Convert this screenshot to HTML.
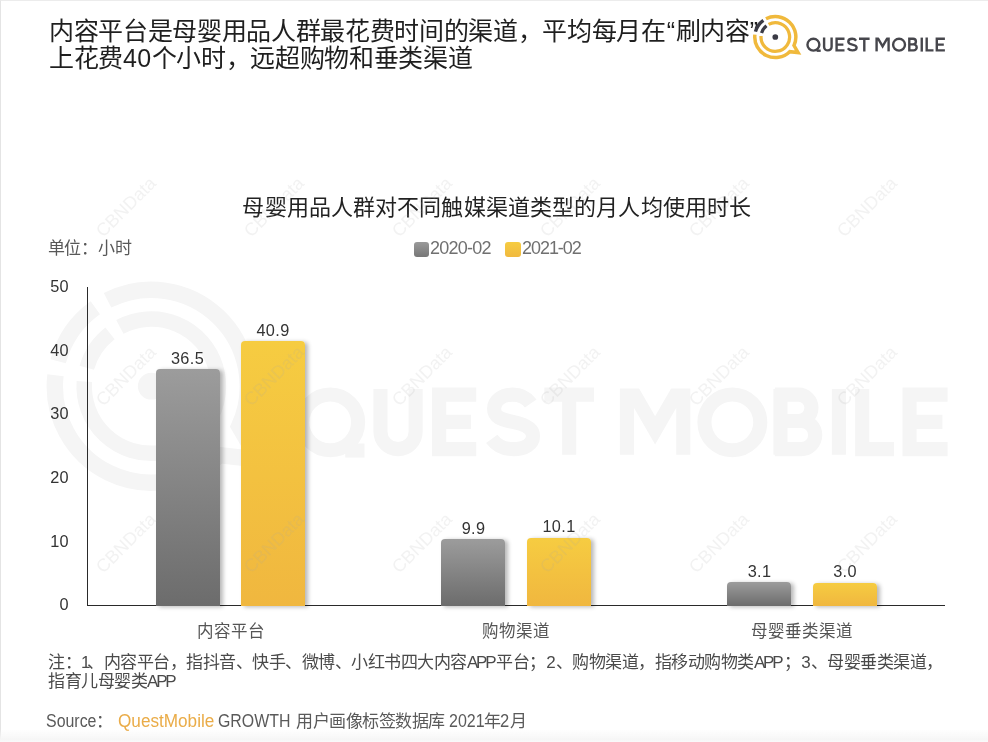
<!DOCTYPE html>
<html lang="zh-CN">
<head>
<meta charset="utf-8">
<title>母婴用品人群对不同触媒渠道类型的月人均使用时长</title>
<style>
*{margin:0;padding:0;box-sizing:border-box}
html,body{width:988px;height:742px;overflow:hidden;background:#fff}
body{position:relative;font-family:"Liberation Sans",sans-serif;color:#222}
#root{position:absolute;left:0;top:0;width:988px;height:742px;overflow:hidden;will-change:transform;transform:translateZ(0)}
.abs{position:absolute;white-space:nowrap}
#frame{position:absolute;left:0;top:0;width:988px;height:742px;border-top:1px solid #ececec;border-left:1px solid #e4e4e4}
#botfade{position:absolute;left:0;bottom:0;width:988px;height:13px;background:linear-gradient(to bottom,rgba(246,246,246,0),#f6f6f6 80%,#fafafa)}
#title{left:49px;top:18px;font-size:25px;letter-spacing:-0.33px;line-height:26.6px;color:#1f1f1f}
#ctitle{left:0;width:993.6px;top:194px;text-align:center;font-size:22px;letter-spacing:.12px;line-height:28px;color:#222}
#unit{left:47.7px;top:238.8px;font-size:17px;letter-spacing:-0.2px;line-height:20px;color:#585858}
.lg{font-size:18px;line-height:20px;color:#707070;top:238px;letter-spacing:-0.75px}
.sw{position:absolute;width:15.6px;height:15.6px;border-radius:3px;top:241.7px}
.yl{width:40px;left:28.9px;text-align:right;font-size:16.3px;letter-spacing:.3px;line-height:20px;color:#333}
.vl{width:80px;text-align:center;font-size:16.3px;letter-spacing:.35px;line-height:20px;color:#333}
.cl{width:200px;text-align:center;font-size:16.5px;line-height:20px;color:#555}
.bar{position:absolute;width:64px;border-radius:4px 4px 0 0;box-shadow:3px 1px 4px rgba(0,0,0,.28)}
.g{background:linear-gradient(to bottom,#9c9c9c,#6c6c6c)}
.y{background:linear-gradient(to bottom,#f6cc41,#f0b73f)}
#note{left:48px;top:652.5px;font-size:17px;letter-spacing:-0.5px;line-height:19.5px;color:#4a4a4a}
#note i{font-style:normal;letter-spacing:-2.2px;margin-right:1.7px}
#note u{text-decoration:none;margin-right:-2.5px}
#note s{text-decoration:none;margin:0 .7px}
#src{position:absolute;left:0;top:710px;color:#5a5a5a}
.sx{top:0;font-size:18px;line-height:22px;transform-origin:0 50%}
.sc{top:1px;font-size:17px;letter-spacing:-0.5px;line-height:22px}
.wm{position:absolute;width:100px;height:20px;margin:-10px 0 0 -50px;text-align:center;font-size:18px;line-height:20px;color:rgba(170,170,170,.15);transform:rotate(-45deg);white-space:nowrap}
</style>
</head>
<body>
<div id="root">
<div id="frame"></div>

<!-- logo geometry (page coords of the small logo) + big watermark -->
<svg class="abs" style="left:0;top:0" width="988" height="742" viewBox="0 0 988 742">
 <defs>
  <clipPath id="capclip"><rect x="800" y="37.5" width="160" height="14.2"/></clipPath>
  <g id="lgY" fill="none" transform="translate(775.3,37)">
   <path d="M-9.33,-18.31 A20.55,20.55 0 0 1 18.70,8.52 L22.8,15.6 L14.40,14.66 A20.55,20.55 0 0 1 -20.42,-2.33" stroke-width="3.5" stroke-linejoin="miter" stroke-miterlimit="10"/>
   <path d="M-6.71,-12.63 A14.3,14.3 0 1 1 -14.27,-1.00" stroke-width="3.3"/>
  </g>
  <g id="lgD" fill="none" transform="translate(775.3,37)">
   <path d="M-19.85,-5.32 A20.55,20.55 0 0 1 -11.93,-16.73" stroke-width="3.4"/>
   <path d="M-13.75,-3.94 A14.3,14.3 0 0 1 -8.80,-11.27" stroke-width="3.2"/>
   <path d="M-0.01,0 L0.01,0" stroke-width="5.7" stroke-linecap="round"/>
  </g>
  <g id="lgT" fill="none">
   <circle cx="813.4" cy="44.7" r="5.95"/>
   <path d="M816.6,50.7 L820.7,50.7"/>
   <path d="M824.1,37.6 V46.65 a3.75,3.75 0 0 0 7.5,0 V37.6"/>
   <path d="M844.5,38.8 H836.6 V50.4 H844.5 M836.6,44.6 H843.4"/>
   <path d="M856.1,40.7 C855.2,39.4 853.8,38.8 852.2,38.8 C850,38.8 848.3,40 848.3,41.8 C848.3,43.6 849.8,44.1 852.3,44.6 C854.8,45.1 856.6,45.9 856.6,47.6 C856.6,49.3 854.9,50.4 852.4,50.4 C850.5,50.4 848.9,49.7 847.8,48.2"/>
   <path d="M859,38.8 H869.6 M864.3,38.8 V51.6"/>
   <path d="M876.6,51.6 V36 L882.6,46.4 L888.6,36 V51.6" clip-path="url(#capclip)" stroke-linejoin="miter" stroke-miterlimit="20"/>
   <circle cx="899.05" cy="44.7" r="5.95"/>
   <path d="M909.3,37.6 V51.6 M908.1,38.8 H913.1 a2.8,2.8 0 0 1 0,5.6 H909.3 M909.3,44.4 H913.7 a3,3 0 0 1 0,6 H908.1"/>
   <path d="M921.75,37.6 V51.6"/>
   <path d="M926.7,37.6 V50.4 H933.5"/>
   <path d="M944.9,38.8 H936.8 V50.4 H944.9 M936.8,44.6 H943.8"/>
  </g>
 </defs>
 <g transform="translate(-3488.7,212.5) scale(4.695)" stroke="#f5f5f5">
  <use href="#lgY"/><use href="#lgD"/><use href="#lgT" stroke-width="3"/>
 </g>
</svg>

<div id="title" class="abs">内容平台是母婴用品人群最花费时间的渠道，平均每月在<span style="margin:0 1px">“</span>刷内容”<br>上花费<span style="letter-spacing:.4px">40</span>个小时，远超购物和垂类渠道</div>

<!-- logo -->
<svg class="abs" style="left:745px;top:8px" width="243" height="62" viewBox="745 8 243 62">
 <use href="#lgY" stroke="#f0b93c"/>
 <use href="#lgD" stroke="#3b3b45"/>
 <use href="#lgT" stroke="#46464c" stroke-width="2.4"/>
</svg>

<div id="ctitle" class="abs">母婴用品人群对不同触媒渠道类型的月人均使用时长</div>
<div id="unit" class="abs">单位：小时</div>

<div class="sw" style="left:413.8px;background:linear-gradient(#9a9a9a,#777)"></div>
<div class="abs lg" style="left:430px">2020-02</div>
<div class="sw" style="left:505.3px;background:linear-gradient(#f6cc41,#f0b93f)"></div>
<div class="abs lg" style="left:522px;letter-spacing:-1.05px">2021-02</div>

<!-- axes -->
<div class="abs" style="left:86.9px;top:286.7px;width:1.5px;height:319.6px;background:#2a2a2a"></div>
<div class="abs" style="left:86.9px;top:604.8px;width:858.3px;height:1.5px;background:#2a2a2a"></div>

<div class="abs yl" style="top:276px">50</div>
<div class="abs yl" style="top:340px">40</div>
<div class="abs yl" style="top:403px">30</div>
<div class="abs yl" style="top:467px">20</div>
<div class="abs yl" style="top:531px">10</div>
<div class="abs yl" style="top:594px">0</div>

<!-- bars -->
<div class="bar g" style="left:155.5px;top:369px;height:236.6px"></div>
<div class="bar y" style="left:241px;top:341px;height:264.6px"></div>
<div class="bar g" style="left:441.2px;top:539px;height:66.6px"></div>
<div class="bar y" style="left:527px;top:537.7px;height:67.9px"></div>
<div class="bar g" style="left:727px;top:582px;height:23.6px"></div>
<div class="bar y" style="left:813px;top:582.5px;height:23.1px"></div>

<div class="abs vl" style="left:147.5px;top:347.5px">36.5</div>
<div class="abs vl" style="left:233px;top:319.7px">40.9</div>
<div class="abs vl" style="left:433.5px;top:518px">9.9</div>
<div class="abs vl" style="left:519px;top:516px">10.1</div>
<div class="abs vl" style="left:719.5px;top:561px">3.1</div>
<div class="abs vl" style="left:805px;top:561px">3.0</div>

<div class="abs cl" style="left:131px;top:621px">内容平台</div>
<div class="abs cl" style="left:416px;top:621px">购物渠道</div>
<div class="abs cl" style="left:702px;top:621px">母婴垂类渠道</div>

<div id="note" class="abs">注：<u>1</u>、内容平台，指抖音、快手、微博、小红书四大内容<i>APP</i>平台；<s>2</s>、购物渠道，指移动购物类<i>APP</i><span style="margin-left:1px">；</span><s>3</s>、母婴垂类渠道，<br>指育儿母婴类<i>APP</i></div>
<div id="src">
<span class="abs sx" style="left:45.6px;transform:scaleX(.885)">Source</span>
<span class="abs sc" style="left:95.5px">：</span>
<span class="abs sx" style="left:117.9px;transform:scaleX(.953);color:#eaac48">QuestMobile</span>
<span class="abs sx" style="left:217.6px;transform:scaleX(.883)">GROWTH</span>
<span class="abs sc" style="left:296.3px">用户画像标签数据库</span>
<span class="abs sx" style="left:448.9px;transform:scaleX(.89)">2021</span>
<span class="abs sc" style="left:484px">年</span>
<span class="abs sx" style="left:499.8px;transform:scaleX(.92)">2</span>
<span class="abs sc" style="left:510.3px">月</span>
</div>

<!-- CBNData watermarks -->
<div class="wm" style="left:125.5px;top:206.8px">CBNData</div>
<div class="wm" style="left:273.8px;top:206.8px">CBNData</div>
<div class="wm" style="left:422.1px;top:206.8px">CBNData</div>
<div class="wm" style="left:570.4px;top:206.8px">CBNData</div>
<div class="wm" style="left:718.7px;top:206.8px">CBNData</div>
<div class="wm" style="left:867.0px;top:206.8px">CBNData</div>
<div class="wm" style="left:125.5px;top:375.7px">CBNData</div>
<div class="wm" style="left:273.8px;top:375.7px">CBNData</div>
<div class="wm" style="left:422.1px;top:375.7px">CBNData</div>
<div class="wm" style="left:570.4px;top:375.7px">CBNData</div>
<div class="wm" style="left:718.7px;top:375.7px">CBNData</div>
<div class="wm" style="left:867.0px;top:375.7px">CBNData</div>
<div class="wm" style="left:125.5px;top:542.7px">CBNData</div>
<div class="wm" style="left:273.8px;top:542.7px">CBNData</div>
<div class="wm" style="left:422.1px;top:542.7px">CBNData</div>
<div class="wm" style="left:570.4px;top:542.7px">CBNData</div>
<div class="wm" style="left:718.7px;top:542.7px">CBNData</div>
<div class="wm" style="left:867.0px;top:542.7px">CBNData</div>

<div id="botfade"></div>
</div>
</body>
</html>
